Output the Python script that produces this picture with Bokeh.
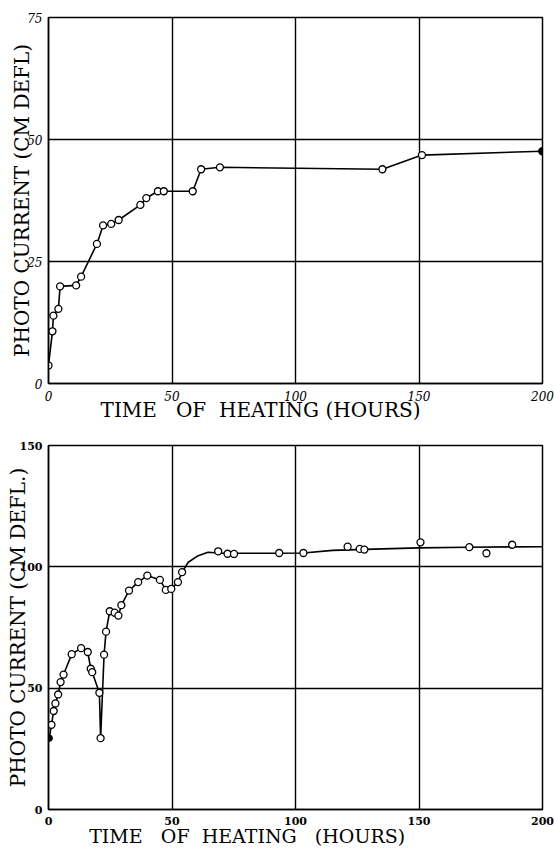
from bokeh.plotting import figure
from bokeh.layouts import column
from bokeh.models import FixedTicker, Range1d
from bokeh.embed import file_html
from bokeh.resources import INLINE

# ---------------- data ----------------
# Upper chart
top_hours = [0, 1.6, 2.0, 4.0, 4.7, 11.2, 13.2, 19.6, 22.1, 25.4, 28.4, 37.2, 39.6,
             44.3, 46.7, 58.4, 61.8, 69.4, 135.2, 151.2, 199.9]
top_current = [3.7, 10.7, 13.9, 15.3, 19.9, 20.1, 21.9, 28.6, 32.4, 32.7, 33.5, 36.6, 38.0,
               39.4, 39.4, 39.4, 43.9, 44.3, 43.9, 46.8, 47.6]

# Lower chart: measured points
bot_hours = [0.3, 1.2, 2.1, 2.8, 3.9, 4.9, 6.1, 9.4, 13.2, 15.9, 17.1, 17.7, 20.6, 21.1,
             22.5, 23.3, 24.8, 26.8, 28.3, 29.5, 32.6, 36.3, 40.0, 45.1, 47.5, 49.7, 52.4,
             54.1, 68.7, 72.5, 75.1, 93.4, 103.2, 121.1, 126.0, 127.9, 150.6, 170.4, 177.3,
             187.7]
bot_current = [29.4, 34.9, 40.6, 43.7, 47.4, 52.5, 55.6, 64.0, 66.5, 64.9, 58.0, 56.6, 48.1,
               29.4, 63.8, 73.3, 81.7, 81.1, 79.9, 84.2, 90.2, 93.7, 96.4, 94.6, 90.5, 90.9,
               93.7, 97.8, 106.4, 105.4, 105.3, 105.7, 105.7, 108.3, 107.4, 107.1, 110.1,
               108.1, 105.6, 109.1]
# Lower chart: drawn curve through the points (first part joins the points)
bot_curve_hours = [54.1, 56.6, 60.6, 64.6, 70.4, 80.0, 93.4, 103.2, 115.0, 128.0, 150.0,
                   170.0, 200.0]
bot_curve_current = [97.8, 101.9, 104.6, 106.0, 105.6, 105.6, 105.6, 105.7, 106.8, 107.2,
                     107.8, 108.1, 108.3]
N_JOINED = 28  # points joined point-to-point before the smooth curve

x_ticks = [0, 50, 100, 150, 200]
top_y_ticks = [0, 25, 50, 75]
bot_y_ticks = [0, 50, 100, 150]

NB = "\u00a0"
Y_LABEL_TOP = "PHOTO CURRENT (CM DEFL)"
Y_LABEL_BOT = "PHOTO CURRENT (CM DEFL.)"
X_LABEL_TOP = "TIME" + NB * 3 + "OF" + NB * 2 + "HEATING (HOURS)" + NB * 11
X_LABEL_BOT = "TIME" + NB * 3 + "OF" + NB * 2 + "HEATING" + NB * 3 + "(HOURS)" + NB * 16

LABEL_FONT = "DejaVu Serif"
TICK_FONT = "DejaVu Serif"


def style(p, xticks, yticks, ygrid, tick_style, tick_size, lab_size, x_lab_off, y_lab_off):
    p.outline_line_color = "black"
    p.outline_line_width = 1.5
    p.background_fill_color = "white"
    p.border_fill_color = "white"
    p.xaxis.ticker = FixedTicker(ticks=xticks)
    p.yaxis.ticker = FixedTicker(ticks=yticks)
    p.xgrid.ticker = FixedTicker(ticks=[50, 100, 150])
    p.ygrid.ticker = FixedTicker(ticks=ygrid)
    for g in (p.xgrid, p.ygrid):
        g.grid_line_color = "black"
        g.grid_line_width = 1.4
        g.grid_line_alpha = 1.0
    for ax in (p.xaxis, p.yaxis):
        ax.axis_line_color = "black"
        ax.axis_line_width = 1.5
        ax.major_tick_line_color = None
        ax.minor_tick_line_color = None
        ax.major_label_text_font = TICK_FONT
        ax.major_label_text_font_size = tick_size
        ax.major_label_text_color = "black"
        ax.major_label_text_font_style = tick_style
        ax.axis_label_text_font = LABEL_FONT
        ax.axis_label_text_font_style = "normal"
        ax.axis_label_text_color = "black"
    p.xaxis.major_label_standoff = 1
    p.yaxis.major_label_standoff = 0
    p.xaxis.axis_label_text_font_size = lab_size
    p.yaxis.axis_label_text_font_size = "20px"
    p.xaxis.axis_label_standoff = x_lab_off
    p.yaxis.axis_label_standoff = y_lab_off


# ---------------- upper chart ----------------
p1 = figure(width=554, height=424, output_backend="svg", toolbar_location=None,
            x_range=Range1d(0, 200), y_range=Range1d(0, 75),
            min_border_left=48, min_border_right=12, min_border_top=17, min_border_bottom=41,
            x_axis_label=X_LABEL_TOP, y_axis_label=Y_LABEL_TOP)
style(p1, x_ticks, top_y_ticks, [25, 50], "italic", "12px", "20px", -6, -10)
p1.line(top_hours, top_current, line_color="black", line_width=1.6)
p1.scatter(top_hours[:-1], top_current[:-1], size=7, marker="circle",
           fill_color="white", line_color="black", line_width=1.3)
p1.scatter(top_hours[-1:], top_current[-1:], size=7, marker="circle",
           fill_color="black", line_color="black", line_width=1.3)

# ---------------- lower chart ----------------
p2 = figure(width=554, height=426, output_backend="svg", toolbar_location=None,
            x_range=Range1d(0, 200), y_range=Range1d(0, 150),
            min_border_left=48, min_border_right=12, min_border_top=21, min_border_bottom=41,
            x_axis_label=X_LABEL_BOT, y_axis_label=Y_LABEL_BOT)
style(p2, x_ticks, bot_y_ticks, [50, 100], "bold", "11px", "19px", -3, -13)
p2.line(bot_hours[:N_JOINED], bot_current[:N_JOINED], line_color="black", line_width=1.6)
p2.line(bot_curve_hours, bot_curve_current, line_color="black", line_width=1.6)
p2.scatter(bot_hours[1:], bot_current[1:], size=7, marker="circle",
           fill_color="white", line_color="black", line_width=1.3)
p2.scatter(bot_hours[:1], bot_current[:1], size=6, marker="circle",
           fill_color="black", line_color="black", line_width=1.3)

layout = column(p1, p2, spacing=0)
open("out.html", "w").write(file_html(layout, INLINE))
